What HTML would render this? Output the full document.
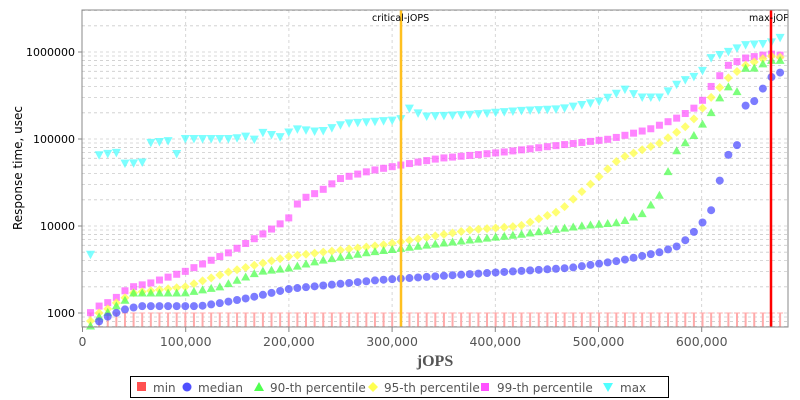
<!DOCTYPE html>
<html><head><meta charset="utf-8"><style>
body{margin:0;background:#fff;}
svg{display:block;font-family:"DejaVu Sans","Liberation Sans",sans-serif;}
</style></head><body>
<svg id="s" width="800" height="400" xmlns="http://www.w3.org/2000/svg">
<rect x="0" y="0" width="800" height="400" fill="#fff"/>
<g id="grid"></g>
<g id="pts"></g>
<line x1="401" y1="10" x2="401" y2="327" stroke="#ffc020" stroke-width="2.5"/>
<line x1="771" y1="10" x2="771" y2="327" stroke="#ff0000" stroke-width="2.5"/>
<text x="372" y="21" font-size="9.5">critical-jOPS</text>
<text x="749" y="21" font-size="9.5">max-jOP</text>
<rect x="82" y="10" width="706" height="317" fill="none" stroke="#888" stroke-width="1"/>
<g id="ax" font-size="12" fill="#555"></g>
<text x="435" y="366" font-size="16" font-weight="bold" text-anchor="middle" fill="#555" font-family="Liberation Serif, serif">jOPS</text>
<text transform="translate(22,168) rotate(-90)" font-size="12" text-anchor="middle">Response time, usec</text>
<rect x="130.5" y="376.5" width="538" height="21" fill="#fff" stroke="#000"/>
<g font-size="12" fill="#555">
<rect x="137" y="382" width="9" height="9" fill="#ff5050"/><text x="153" y="392">min</text>
<circle cx="187" cy="387" r="4.5" fill="#5050ff"/><text x="198" y="392">median</text>
<polygon points="259,382 264,391 254,391" fill="#50ff50"/><text x="270" y="392">90-th percentile</text>
<polygon points="373,382 378,387 373,392 368,387" fill="#ffff50"/><text x="384" y="392">95-th percentile</text>
<rect x="481" y="383" width="8" height="8" fill="#ff50ff"/><text x="497" y="392">99-th percentile</text>
<polygon points="603,383 613,383 608,392" fill="#50ffff"/><text x="620" y="392">max</text>
</g>
</svg>
<script>
const NS="http://www.w3.org/2000/svg";
function el(p,t,a){const e=document.createElementNS(NS,t);for(const k in a)e.setAttribute(k,a[k]);p.appendChild(e);return e;}
const L=82,R=788,T=10,B=327;
function Y(v){return 313-87*(Math.log10(v)-3);}
const g=document.getElementById('grid'),ax=document.getElementById('ax'),pts=document.getElementById('pts');
for(let d=2;d<=6;d++){for(let m=1;m<10;m++){const v=m*Math.pow(10,d);const y=Y(v);if(y<T||y>B)continue;
el(g,'line',{x1:L,x2:R,y1:y,y2:y,stroke:'#ccc','stroke-dasharray':'3,3','stroke-width':0.8});}}
[1000,10000,100000,1000000].forEach(v=>{const y=Y(v);el(ax,'line',{x1:78,x2:82,y1:y,y2:y,stroke:'#888'});
const t=el(ax,'text',{x:75,y:y+4,'text-anchor':'end','font-size':11,fill:'#000'});t.textContent=v;});
for(let i=1;i<=6;i++){const x=L+0.5+i*103.2;el(g,'line',{x1:x,x2:x,y1:T,y2:B,stroke:'#ccc','stroke-dasharray':'3,3','stroke-width':0.8});}
for(let i=0;i<=6;i++){const x=L+0.5+i*103.2;el(ax,'line',{x1:x,x2:x,y1:327,y2:332,stroke:'#888'});
const t=el(ax,'text',{x:x,y:346,'text-anchor':'middle','font-size':12.5});t.textContent=i==0?'0':(i*100)+',000';}
function interp(k,x){if(x<=k[0][0])return k[0][1];for(let i=1;i<k.length;i++){if(x<=k[i][0]){const a=k[i-1],b=k[i];const f=(x-a[0])/(b[0]-a[0]);return Math.pow(10,Math.log10(a[1])+f*(Math.log10(b[1])-Math.log10(a[1])));}}return k[k.length-1][1];}
const med=[[90,600],[99,800],[107,900],[116,1000],[125,1100],[140,1200],[200,1200],[220,1300],[250,1500],[290,1900],[380,2400],[470,2800],[570,3300],[620,4000],[660,5000],[680,6000],[700,10000],[711,15000],[720,34000],[728,65000],[737,85000],[745,240000],[754,270000],[770,500000],[779,600000],[787,470000]];
const p90=[[90,700],[99,900],[107,1000],[116,1200],[125,1400],[133,1700],[185,1700],[220,2000],[260,3000],[290,3300],[320,4000],[370,5000],[450,6500],[520,8000],[580,10000],[620,11000],[643,14000],[652,18000],[660,23000],[668,42000],[677,75000],[685,90000],[694,110000],[711,200000],[720,300000],[728,400000],[737,350000],[745,650000],[754,650000],[770,800000],[787,800000]];
const p95=[[90,800],[99,1000],[107,1100],[116,1300],[125,1500],[133,1700],[150,1800],[185,2000],[230,3000],[290,4500],[380,6000],[470,9000],[520,10000],[560,15000],[590,30000],[620,60000],[660,90000],[690,150000],[711,300000],[728,500000],[745,700000],[770,900000],[787,850000]];
const p99=[[90,1000],[99,1200],[107,1300],[116,1500],[125,1800],[133,2000],[150,2200],[185,3000],[230,5000],[270,9000],[288,12000],[300,20000],[320,25000],[340,35000],[370,43000],[400,50000],[440,60000],[500,70000],[560,85000],[610,100000],[650,130000],[680,180000],[700,250000],[711,400000],[728,700000],[745,850000],[770,950000],[787,900000]];
const mx=[[90,4000],[99,65000],[116,70000],[125,52000],[142,53000],[150,90000],[170,95000],[176,65000],[185,100000],[235,100000],[245,110000],[250,85000],[260,120000],[280,105000],[295,130000],[320,120000],[345,150000],[400,165000],[413,250000],[420,180000],[470,190000],[520,210000],[560,220000],[600,270000],[625,370000],[640,300000],[660,300000],[680,450000],[700,550000],[711,850000],[728,1000000],[745,1200000],[770,1250000],[779,1500000],[787,1200000]];
const xs=[];for(let x=90.5;x<=788;x+=8.62)xs.push(x);
xs.forEach(x=>{el(pts,'line',{x1:x,x2:x,y1:313,y2:327,stroke:'#ffaaaa','stroke-width':2});el(pts,'line',{x1:x-3,x2:x+3,y1:313,y2:313,stroke:'#ffaaaa','stroke-width':1});});
function draw(k,f){xs.forEach(x=>{const y=Y(interp(k,x));if(y>B+4||y<T-4)return;f(x,y);});}
draw(mx,(x,y)=>el(pts,'polygon',{points:`${x-4.5},${y-4} ${x+4.5},${y-4} ${x},${y+4.5}`,fill:'#50ffff',opacity:0.75}));
draw(p99,(x,y)=>el(pts,'rect',{x:x-3.5,y:y-3.5,width:7,height:7,fill:'#ff50ff',opacity:0.7}));
draw(p95,(x,y)=>el(pts,'polygon',{points:`${x},${y-4.5} ${x+4.5},${y} ${x},${y+4.5} ${x-4.5},${y}`,fill:'#ffff50',opacity:0.8}));
draw(p90,(x,y)=>el(pts,'polygon',{points:`${x},${y-4.5} ${x+4.5},${y+3.5} ${x-4.5},${y+3.5}`,fill:'#50ff50',opacity:0.75}));
draw(med,(x,y)=>el(pts,'circle',{cx:x,cy:y,r:4,fill:'#5050ff',opacity:0.75}));
</script>
</body></html>
